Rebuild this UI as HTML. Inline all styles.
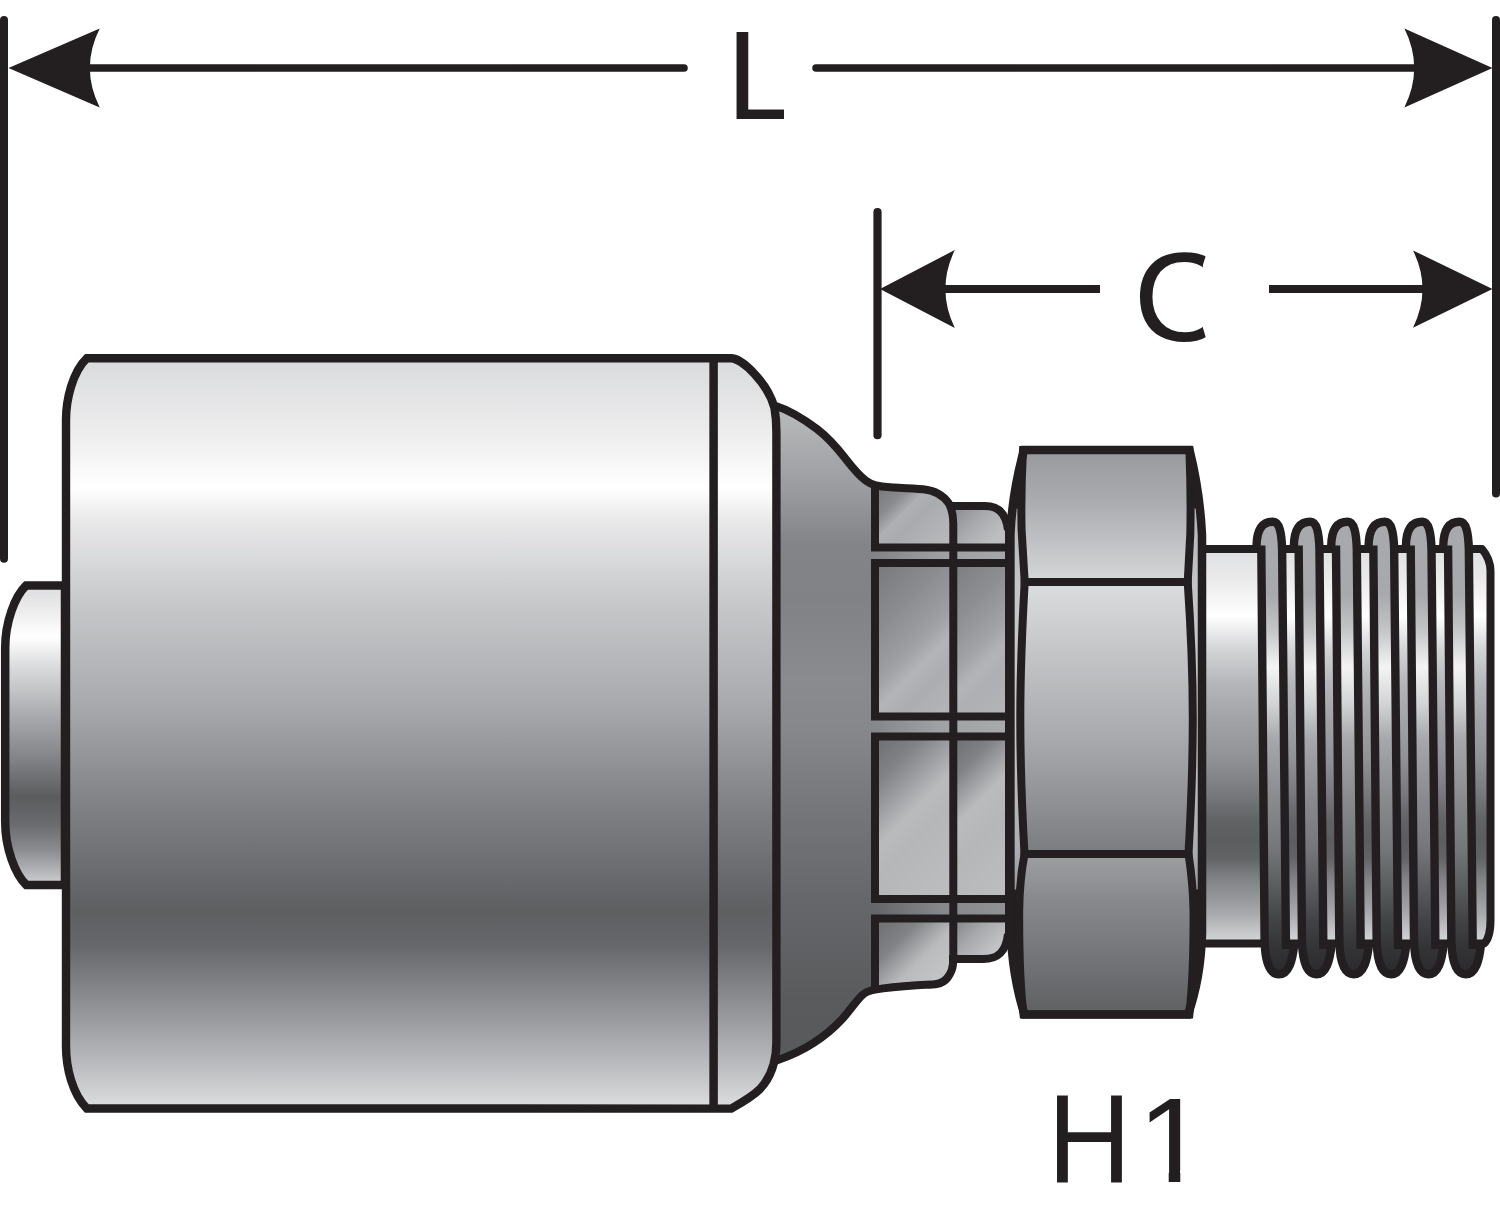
<!DOCTYPE html>
<html lang="en"><head><meta charset="utf-8"><title>Hose fitting dimension diagram</title>
<style>
html,body{margin:0;padding:0;background:#ffffff;}
body{width:1500px;height:1210px;overflow:hidden;font-family:"Liberation Sans",sans-serif;}
svg{display:block;}
</style></head>
<body>
<svg width="1500" height="1210" viewBox="0 0 1500 1210">
<defs>
<linearGradient id="gFer" gradientUnits="userSpaceOnUse" x1="0" y1="358" x2="0" y2="1108"><stop offset="0.0000" stop-color="#d9dadb"/><stop offset="0.0960" stop-color="#ececed"/><stop offset="0.1733" stop-color="#ffffff"/><stop offset="0.2160" stop-color="#e9e9ea"/><stop offset="0.3227" stop-color="#c8c9cb"/><stop offset="0.4560" stop-color="#a9abae"/><stop offset="0.5893" stop-color="#828386"/><stop offset="0.6960" stop-color="#68696c"/><stop offset="0.7360" stop-color="#5e5f61"/><stop offset="0.7827" stop-color="#66676a"/><stop offset="0.8560" stop-color="#8c8d90"/><stop offset="0.9360" stop-color="#b7b8bb"/><stop offset="1.0000" stop-color="#dddedf"/></linearGradient>
<linearGradient id="gStub" gradientUnits="userSpaceOnUse" x1="0" y1="585" x2="0" y2="885"><stop offset="0.0000" stop-color="#dcddde"/><stop offset="0.0667" stop-color="#e9e9ea"/><stop offset="0.1733" stop-color="#ffffff"/><stop offset="0.2667" stop-color="#dcddde"/><stop offset="0.4333" stop-color="#a9abae"/><stop offset="0.5833" stop-color="#808285"/><stop offset="0.7067" stop-color="#5b5c5e"/><stop offset="0.8000" stop-color="#6b6c6f"/><stop offset="0.8833" stop-color="#8a8c8f"/><stop offset="0.9433" stop-color="#adafb2"/><stop offset="1.0000" stop-color="#cfd0d2"/></linearGradient>
<linearGradient id="gNeck" gradientUnits="userSpaceOnUse" x1="0" y1="404" x2="0" y2="1062"><stop offset="0.0000" stop-color="#b9bbbd"/><stop offset="0.0198" stop-color="#b5b7b9"/><stop offset="0.1155" stop-color="#9d9fa2"/><stop offset="0.2128" stop-color="#828487"/><stop offset="0.2979" stop-color="#808285"/><stop offset="0.4195" stop-color="#898b8e"/><stop offset="0.4985" stop-color="#85878a"/><stop offset="0.6018" stop-color="#77787b"/><stop offset="0.7538" stop-color="#66676a"/><stop offset="0.9058" stop-color="#5a5b5d"/><stop offset="1.0000" stop-color="#58595b"/></linearGradient>
<linearGradient id="gGapH" gradientUnits="userSpaceOnUse" x1="875" y1="0" x2="1007" y2="0"><stop offset="0.000" stop-color="#ffffff00"/><stop offset="0.500" stop-color="#ffffff38"/><stop offset="1.000" stop-color="#ffffff48"/></linearGradient>
<linearGradient id="gHexT" gradientUnits="userSpaceOnUse" x1="0" y1="450" x2="0" y2="582"><stop offset="0.0000" stop-color="#97999c"/><stop offset="0.3788" stop-color="#a9abae"/><stop offset="1.0000" stop-color="#d6d7d9"/></linearGradient>
<linearGradient id="gHexM" gradientUnits="userSpaceOnUse" x1="0" y1="582" x2="0" y2="854"><stop offset="0.0000" stop-color="#dcddde"/><stop offset="0.2500" stop-color="#c4c6c8"/><stop offset="0.5809" stop-color="#a7a9ac"/><stop offset="1.0000" stop-color="#7b7c7f"/></linearGradient>
<linearGradient id="gHexB" gradientUnits="userSpaceOnUse" x1="0" y1="854" x2="0" y2="1014"><stop offset="0.0000" stop-color="#9d9fa2"/><stop offset="0.2875" stop-color="#88898c"/><stop offset="0.6625" stop-color="#737477"/><stop offset="1.0000" stop-color="#5f6062"/></linearGradient>
<linearGradient id="gHexS" gradientUnits="userSpaceOnUse" x1="0" y1="450" x2="0" y2="1014"><stop offset="0.0000" stop-color="#231f20"/><stop offset="0.1028" stop-color="#231f20"/><stop offset="0.1046" stop-color="#b1b3b6"/><stop offset="0.2340" stop-color="#c2c4c6"/><stop offset="0.4787" stop-color="#c7c8ca"/><stop offset="0.7163" stop-color="#a9abae"/><stop offset="0.7784" stop-color="#97999c"/><stop offset="0.7801" stop-color="#231f20"/><stop offset="1.0000" stop-color="#231f20"/></linearGradient>
<linearGradient id="gShank" gradientUnits="userSpaceOnUse" x1="0" y1="549" x2="0" y2="943"><stop offset="0.0000" stop-color="#dfe0e1"/><stop offset="0.0787" stop-color="#ebebec"/><stop offset="0.1701" stop-color="#ffffff"/><stop offset="0.2538" stop-color="#d3d4d6"/><stop offset="0.3452" stop-color="#b3b5b8"/><stop offset="0.4391" stop-color="#a0a2a5"/><stop offset="0.5305" stop-color="#909295"/><stop offset="0.6244" stop-color="#77787b"/><stop offset="0.6878" stop-color="#626365"/><stop offset="0.7386" stop-color="#5c5d5f"/><stop offset="0.7843" stop-color="#626365"/><stop offset="0.8376" stop-color="#808285"/><stop offset="0.8909" stop-color="#97999c"/><stop offset="0.9289" stop-color="#a9abae"/><stop offset="0.9670" stop-color="#c2c4c6"/><stop offset="1.0000" stop-color="#d6d7d9"/></linearGradient>
<linearGradient id="gCrest" gradientUnits="userSpaceOnUse" x1="0" y1="521" x2="0" y2="975"><stop offset="0.0000" stop-color="#a7a9ac"/><stop offset="0.1630" stop-color="#a7a9ac"/><stop offset="0.2423" stop-color="#c5c6c8"/><stop offset="0.3216" stop-color="#f4f4f4"/><stop offset="0.4031" stop-color="#d1d3d4"/><stop offset="0.4824" stop-color="#a5a7aa"/><stop offset="0.6035" stop-color="#8a8c8f"/><stop offset="0.7225" stop-color="#757679"/><stop offset="0.8018" stop-color="#5c5d5f"/><stop offset="0.8833" stop-color="#414244"/><stop offset="0.9449" stop-color="#333335"/><stop offset="1.0000" stop-color="#2a292b"/></linearGradient>
<linearGradient id="gSL0" gradientUnits="userSpaceOnUse" x1="878" y1="488" x2="938" y2="548"><stop offset="0.000" stop-color="#77787b"/><stop offset="0.250" stop-color="#8a8c8f"/><stop offset="0.420" stop-color="#aeb0b3"/><stop offset="0.580" stop-color="#a9abae"/><stop offset="1.000" stop-color="#b6b8ba"/></linearGradient>
<linearGradient id="gSR0" gradientUnits="userSpaceOnUse" x1="955" y1="506" x2="1000" y2="551"><stop offset="0.000" stop-color="#8a8c8f"/><stop offset="0.400" stop-color="#a7a9ac"/><stop offset="0.800" stop-color="#bcbec0"/><stop offset="1.000" stop-color="#bcbec0"/></linearGradient>
<linearGradient id="gSL1" gradientUnits="userSpaceOnUse" x1="875" y1="563" x2="990.7" y2="678.7"><stop offset="0.000" stop-color="#77787b"/><stop offset="0.300" stop-color="#8a8c8f"/><stop offset="0.520" stop-color="#9d9fa2"/><stop offset="0.640" stop-color="#b2b4b7"/><stop offset="0.760" stop-color="#abadb0"/><stop offset="1.000" stop-color="#b4b6b8"/></linearGradient>
<linearGradient id="gSR1" gradientUnits="userSpaceOnUse" x1="953" y1="563" x2="1056.7" y2="666.7"><stop offset="0.000" stop-color="#7b7c7f"/><stop offset="0.300" stop-color="#8d8f92"/><stop offset="0.520" stop-color="#a0a2a5"/><stop offset="0.640" stop-color="#b2b4b7"/><stop offset="0.760" stop-color="#adafb2"/><stop offset="1.000" stop-color="#b4b6b8"/></linearGradient>
<linearGradient id="gSL2" gradientUnits="userSpaceOnUse" x1="875" y1="736.5" x2="995" y2="856.5"><stop offset="0.000" stop-color="#6d6e71"/><stop offset="0.200" stop-color="#808285"/><stop offset="0.360" stop-color="#a2a4a7"/><stop offset="0.470" stop-color="#b9bbbd"/><stop offset="0.600" stop-color="#b4b6b8"/><stop offset="1.000" stop-color="#bcbec0"/></linearGradient>
<linearGradient id="gSR2" gradientUnits="userSpaceOnUse" x1="953" y1="736.5" x2="1061" y2="844.5"><stop offset="0.000" stop-color="#6d6e71"/><stop offset="0.200" stop-color="#808285"/><stop offset="0.330" stop-color="#a2a4a7"/><stop offset="0.420" stop-color="#b9bbbd"/><stop offset="0.600" stop-color="#b4b6b8"/><stop offset="1.000" stop-color="#bcbec0"/></linearGradient>
<linearGradient id="gSL3" gradientUnits="userSpaceOnUse" x1="878" y1="918.5" x2="948" y2="988.5"><stop offset="0.000" stop-color="#6d6e71"/><stop offset="0.300" stop-color="#808285"/><stop offset="0.600" stop-color="#b9bbbd"/><stop offset="1.000" stop-color="#c7c8ca"/></linearGradient>
<linearGradient id="gSR3" gradientUnits="userSpaceOnUse" x1="955" y1="918.5" x2="1000" y2="963.5"><stop offset="0.000" stop-color="#808285"/><stop offset="0.400" stop-color="#a7a9ac"/><stop offset="0.800" stop-color="#c2c4c6"/><stop offset="1.000" stop-color="#c7c8ca"/></linearGradient>
</defs>
<g fill="none" stroke="#231f20" stroke-linecap="round">
<line x1="4" y1="20" x2="4" y2="558.8" stroke-width="8"/>
<line x1="1496" y1="20" x2="1496" y2="493.6" stroke-width="8"/>
<line x1="877.5" y1="212.2" x2="877.5" y2="435.2" stroke-width="8.2"/>
<line x1="88" y1="68" x2="684" y2="68" stroke-width="7.6"/>
<line x1="816" y1="68" x2="1416" y2="68" stroke-width="7.6"/>
<line x1="943" y1="289" x2="1100" y2="289" stroke-width="7.8" stroke-linecap="butt"/>
<line x1="1269" y1="289" x2="1424" y2="289" stroke-width="7.8" stroke-linecap="butt"/>
</g>
<g fill="#231f20">
<path d="M8.5,68 L99.7,28.6 Q80,68 99.7,107.4 Z"/>
<path d="M1492.5,68 L1404.4,28.6 Q1424,68 1404.4,107.4 Z"/>
<path d="M880,289 L954.8,250 Q936,289 954.8,328 Z"/>
<path d="M1492.5,289 L1413,250.4 Q1432,289 1413,327.8 Z"/>
</g>
<clipPath id="cp1"><path d="M1140,1080 H1200 V1170 H1180.3 V1190 H1168.7 V1170 H1140 Z"/></clipPath>
<clipPath id="cpC"><path d="M1100,235 L1207,235 L1205.8,255.8 L1202.9,265 L1202.9,327.7 L1205.5,336.4 L1207,352 L1100,352 Z"/></clipPath>
<clipPath id="cpL"><rect x="700" y="20" width="84" height="110"/></clipPath>
<g fill="#231f20" font-family="&quot;Liberation Sans&quot;, sans-serif" font-size="125.6">
<g clip-path="url(#cpL)"><text id="tL" transform="translate(726.2,119.2)">L</text></g>
<g clip-path="url(#cpC)"><text id="tC" transform="translate(1133.2,340.7) scale(1.05,1)">C</text></g>
<text id="tH" transform="translate(1047.4,1182.2) scale(0.925,1)">H</text>
<g clip-path="url(#cp1)"><text id="t1" transform="translate(1137.5,1182.2) scale(1,0.965)">1</text></g>
</g>
<path d="M65,585.4 L26.2,585.4 C15,596 5.2,622 5.2,648 L5.2,822 C5.2,848 15,874 26.2,884.9 L65,884.9 Z" fill="url(#gStub)" stroke="#231f20" stroke-width="8.5" stroke-linejoin="miter"/>
<path d="M776,406 C790,410.5 805,420 817,429 C830,439 838,449 845,458 C852,467 858,475 866,480.7 C870,483.5 873,484.6 875,485.2 C880,486.5 885,487 890,487.2 C900,487.8 912,488.3 923,489.3 C935,490.5 943,495 948.7,503.3 C952,509 953.3,515 953.3,524 L953.3,506 L985,506 C998,506 1006,513 1008,530 L1013,530 L1013,934 L1008,934 C1006,952 998,959 983,959 L953.3,959 L953.3,958 C953.3,969 951,973 947.3,978 C945,981 942,983 936.7,984 C932,984.8 925,984.7 916.7,985.3 C900,986.5 885,988 875,989.6 C870,990.5 866,991.5 862,995.3 C856,1001 850,1010.5 842,1019.3 C832,1030 822,1037.5 814,1042.7 C803,1050 790,1056 776,1060.8 Z" fill="url(#gNeck)"/>
<path d="M875,485.2 C880,486.5 885,487 890,487.2 C900,487.8 912,488.3 923,489.3 C935,490.5 943,495 948.7,503.3 C952,509 953.3,515 953.3,524 L953.3,506 L985,506 C998,506 1006,513 1008,530 L1013,530 L1013,934 L1008,934 C1006,952 998,959 983,959 L953.3,959 L953.3,958 C953.3,969 951,973 947.3,978 C945,981 942,983 936.7,984 C932,984.8 925,984.7 916.7,985.3 C900,986.5 885,988 875,989.6 Z" fill="url(#gGapH)"/>
<path d="M875,547.5 L875,485.2 C880,486.5 885,487 890,487.2 C900,487.8 912,488.3 923,489.3 C935,490.5 943,495 948.7,503.3 C952,509 953.3,515 953.3,524 L953.3,547.5 Z" fill="url(#gSL0)"/>
<path d="M953,547.5 L953,506 L985,506 C998,506 1006,513 1008,530 L1013,530 L1013,547.5 Z" fill="url(#gSR0)"/>
<path d="M875,484 L875,547.5 L1010,547.5" fill="none" stroke="#231f20" stroke-width="8" stroke-linejoin="miter"/>
<rect x="875" y="563" width="78" height="153.5" fill="url(#gSL1)"/>
<rect x="953" y="563" width="60" height="153.5" fill="url(#gSR1)"/>
<path d="M1010,563 L875,563 L875,716.5 L1010,716.5" fill="none" stroke="#231f20" stroke-width="8" stroke-linejoin="miter"/>
<rect x="875" y="736.5" width="78" height="162.5" fill="url(#gSL2)"/>
<rect x="953" y="736.5" width="60" height="162.5" fill="url(#gSR2)"/>
<path d="M1010,736.5 L875,736.5 L875,899 L1010,899" fill="none" stroke="#231f20" stroke-width="8" stroke-linejoin="miter"/>
<path d="M875,918.5 L875,989.6 C885,988 900,986.5 916.7,985.3 C925,984.7 932,984.8 936.7,984 C942,983 945,981 947.3,978 C951,973 953.3,969 953.3,958 L953.3,918.5 Z" fill="url(#gSL3)"/>
<path d="M953,918.5 L953,959 L983,959 C998,959 1006,952 1008,934 L1013,934 L1013,918.5 Z" fill="url(#gSR3)"/>
<path d="M875,992 L875,918.5 L1010,918.5" fill="none" stroke="#231f20" stroke-width="8" stroke-linejoin="miter"/>
<g fill="none" stroke="#231f20" stroke-width="8" stroke-linecap="butt" stroke-linejoin="round">
<path d="M776,406 C790,410.5 805,420 817,429 C830,439 838,449 845,458 C852,467 858,475 866,480.7 C870,483.5 873,484.6 875,485.2 C880,486.5 885,487 890,487.2 C900,487.8 912,488.3 923,489.3 C935,490.5 943,495 948.7,503.3 C952,509 953.3,515 953.3,524 L953.3,958 C953.3,969 951,973 947.3,978 C945,981 942,983 936.7,984 C932,984.8 925,984.7 916.7,985.3 C900,986.5 885,988 875,989.6 C870,990.5 866,991.5 862,995.3 C856,1001 850,1010.5 842,1019.3 C832,1030 822,1037.5 814,1042.7 C803,1050 790,1056 776,1060.8"/>
<path d="M949,506 L985,506 C998,506 1006,513 1008,530"/>
<path d="M949,959 L983,959 C998,959 1006,952 1008,934"/>
</g>
<path d="M86.8,358.2 L731,358.3 C742,358.3 768,383 774.5,408 C775.7,415 776.4,423 776.4,432 L776.4,1042 C776.4,1060 772,1076 760,1089 C752,1097 742,1102.5 731.2,1108.6 L86.8,1108.5 C72.4,1094 66,1068 66,1046 L66,420 C66,400 72.4,372 86.8,358.2 Z" fill="url(#gFer)" stroke="#231f20" stroke-width="8.4" stroke-linejoin="miter"/>
<line x1="713.6" y1="358" x2="713.6" y2="1108" stroke="#231f20" stroke-width="8.5"/>
<path d="M1202,549 L1482,549 C1484.5,552 1490.5,560 1490.5,571 L1490.5,920 C1490.5,932 1488,940 1484,943.6 L1202,943.6 Z" fill="url(#gShank)" stroke="#231f20" stroke-width="8" stroke-linejoin="round"/>
<path d="M1261.30,553 L1256.50,549 C1256.50,529 1262.50,521.7 1273.00,521.7 C1279.50,521.7 1281.60,533 1282.10,549 L1285.90,943 L1294.20,945 C1292.50,960 1289.00,974.2 1279.00,974.2 C1268.50,974.2 1264.90,958 1264.60,940 Z" fill="url(#gCrest)"/>
<path d="M1256.50,552 L1256.50,546 C1256.80,529 1262.50,521.7 1273.00,521.7 C1279.50,521.7 1281.60,533 1282.10,549 L1286.00,949" fill="none" stroke="#231f20" stroke-width="8.4" stroke-linejoin="round"/>
<path d="M1261.30,545.5 L1264.60,940 C1264.90,958 1268.50,974.2 1279.00,974.2 C1289.00,974.2 1292.50,960 1294.20,945 L1294.60,941" fill="none" stroke="#231f20" stroke-width="8.4" stroke-linejoin="round"/>
<path d="M1298.65,553 L1293.85,549 C1293.85,529 1299.85,521.7 1310.35,521.7 C1316.85,521.7 1318.95,533 1319.45,549 L1323.25,943 L1331.55,945 C1329.85,960 1326.35,974.2 1316.35,974.2 C1305.85,974.2 1302.25,958 1301.95,940 Z" fill="url(#gCrest)"/>
<path d="M1293.85,552 L1293.85,546 C1294.15,529 1299.85,521.7 1310.35,521.7 C1316.85,521.7 1318.95,533 1319.45,549 L1323.35,949" fill="none" stroke="#231f20" stroke-width="8.4" stroke-linejoin="round"/>
<path d="M1298.65,545.5 L1301.95,940 C1302.25,958 1305.85,974.2 1316.35,974.2 C1326.35,974.2 1329.85,960 1331.55,945 L1331.95,941" fill="none" stroke="#231f20" stroke-width="8.4" stroke-linejoin="round"/>
<path d="M1336.00,553 L1331.20,549 C1331.20,529 1337.20,521.7 1347.70,521.7 C1354.20,521.7 1356.30,533 1356.80,549 L1360.60,943 L1368.90,945 C1367.20,960 1363.70,974.2 1353.70,974.2 C1343.20,974.2 1339.60,958 1339.30,940 Z" fill="url(#gCrest)"/>
<path d="M1331.20,552 L1331.20,546 C1331.50,529 1337.20,521.7 1347.70,521.7 C1354.20,521.7 1356.30,533 1356.80,549 L1360.70,949" fill="none" stroke="#231f20" stroke-width="8.4" stroke-linejoin="round"/>
<path d="M1336.00,545.5 L1339.30,940 C1339.60,958 1343.20,974.2 1353.70,974.2 C1363.70,974.2 1367.20,960 1368.90,945 L1369.30,941" fill="none" stroke="#231f20" stroke-width="8.4" stroke-linejoin="round"/>
<path d="M1373.35,553 L1368.55,549 C1368.55,529 1374.55,521.7 1385.05,521.7 C1391.55,521.7 1393.65,533 1394.15,549 L1397.95,943 L1406.25,945 C1404.55,960 1401.05,974.2 1391.05,974.2 C1380.55,974.2 1376.95,958 1376.65,940 Z" fill="url(#gCrest)"/>
<path d="M1368.55,552 L1368.55,546 C1368.85,529 1374.55,521.7 1385.05,521.7 C1391.55,521.7 1393.65,533 1394.15,549 L1398.05,949" fill="none" stroke="#231f20" stroke-width="8.4" stroke-linejoin="round"/>
<path d="M1373.35,545.5 L1376.65,940 C1376.95,958 1380.55,974.2 1391.05,974.2 C1401.05,974.2 1404.55,960 1406.25,945 L1406.65,941" fill="none" stroke="#231f20" stroke-width="8.4" stroke-linejoin="round"/>
<path d="M1410.70,553 L1405.90,549 C1405.90,529 1411.90,521.7 1422.40,521.7 C1428.90,521.7 1431.00,533 1431.50,549 L1435.30,943 L1443.60,945 C1441.90,960 1438.40,974.2 1428.40,974.2 C1417.90,974.2 1414.30,958 1414.00,940 Z" fill="url(#gCrest)"/>
<path d="M1405.90,552 L1405.90,546 C1406.20,529 1411.90,521.7 1422.40,521.7 C1428.90,521.7 1431.00,533 1431.50,549 L1435.40,949" fill="none" stroke="#231f20" stroke-width="8.4" stroke-linejoin="round"/>
<path d="M1410.70,545.5 L1414.00,940 C1414.30,958 1417.90,974.2 1428.40,974.2 C1438.40,974.2 1441.90,960 1443.60,945 L1444.00,941" fill="none" stroke="#231f20" stroke-width="8.4" stroke-linejoin="round"/>
<path d="M1448.05,553 L1443.25,549 C1443.25,529 1449.25,521.7 1459.75,521.7 C1466.25,521.7 1468.35,533 1468.85,549 L1472.65,943 L1480.95,945 C1479.25,960 1475.75,974.2 1465.75,974.2 C1455.25,974.2 1451.65,958 1451.35,940 Z" fill="url(#gCrest)"/>
<path d="M1443.25,552 L1443.25,546 C1443.55,529 1449.25,521.7 1459.75,521.7 C1466.25,521.7 1468.35,533 1468.85,549 L1472.75,949" fill="none" stroke="#231f20" stroke-width="8.4" stroke-linejoin="round"/>
<path d="M1448.05,545.5 L1451.35,940 C1451.65,958 1455.25,974.2 1465.75,974.2 C1475.75,974.2 1479.25,960 1480.95,945 L1481.35,941" fill="none" stroke="#231f20" stroke-width="8.4" stroke-linejoin="round"/>
<line x1="1007.6" y1="526" x2="1007.6" y2="938" stroke="#231f20" stroke-width="5.2"/>
<path d="M1024,450 L1189.5,450 C1194,468 1200,495 1202,535 L1202,934 C1201,968 1196,992 1188,1014.5 L1024.5,1014.5 C1015,985 1010.4,950 1010.4,915 L1010.4,535 C1012,495 1019,468 1024,450 Z" fill="url(#gHexS)"/>
<path d="M1023,450 L1189.4,450 C1190.6,480 1190.8,510 1190.3,534 L1187.7,582 L1024.7,582 L1021.6,530 C1021,505 1021.5,478 1023,450 Z" fill="url(#gHexT)" stroke="#231f20" stroke-width="8" stroke-linejoin="miter"/>
<path d="M1024.7,582 L1187.7,582 C1191,630 1192.8,680 1192.8,718 C1192.8,760 1191,810 1188.5,854 L1024.5,854 C1022,810 1020.3,760 1020.3,718 C1020.3,680 1022,630 1024.7,582 Z" fill="url(#gHexM)" stroke="#231f20" stroke-width="8" stroke-linejoin="miter"/>
<path d="M1024.5,854 L1188.5,854 C1191,870 1193,885 1193.5,910 C1193.8,950 1192,990 1189.4,1014.5 L1023.5,1014.5 C1020.5,990 1019,950 1019.2,910 C1019.5,885 1021.5,870 1024.5,854 Z" fill="url(#gHexB)" stroke="#231f20" stroke-width="8" stroke-linejoin="miter"/>
<path d="M1024,450 L1189.5,450 C1194,468 1200,495 1202,535 L1202,934 C1201,968 1196,992 1188,1014.5 L1024.5,1014.5 C1015,985 1010.4,950 1010.4,915 L1010.4,535 C1012,495 1019,468 1024,450 Z" fill="none" stroke="#231f20" stroke-width="8.5" stroke-linejoin="miter"/>
</svg>
</body></html>
